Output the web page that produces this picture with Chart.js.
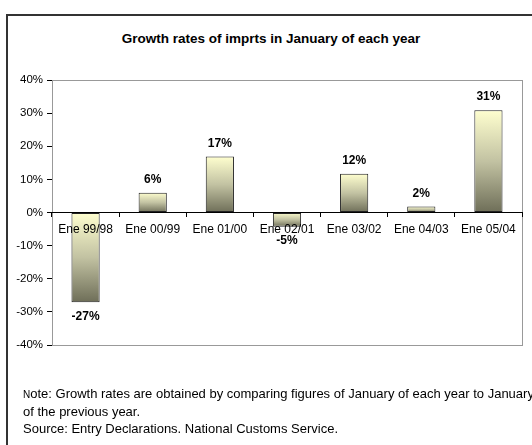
<!DOCTYPE html>
<html>
<head>
<meta charset="utf-8">
<script src="https://cdn.jsdelivr.net/npm/chart.js@4/dist/chart.umd.min.js"></script>
<style>
  body { margin: 0; background: #fff; font-family: "Liberation Sans", Arial, sans-serif; }
  #wrap { position: relative; width: 532px; height: 445px; overflow: hidden; }
  #frame { position: absolute; left: 6px; top: 14px; width: 600px; height: 500px;
           border-left: 2px solid #333; border-top: 2px solid #333; }
  #title { position: absolute; left: 0; width: 542px; top: 31px; text-align: center;
           font-weight: bold; font-size: 13.5px; color: #000; }
  #note { position: absolute; left: 23px; top: 385px; width: 540px; font-size: 13px;
          line-height: 17px; color: #000; white-space: nowrap; }
  #chartBox { position: absolute; left: 0; top: 0; width: 532px; height: 445px; }
  .sc { font-size: 10px; }
</style>
</head>
<body>
<div id="wrap">
  <div id="frame"></div>
  <div id="title">Growth rates of imprts in January of each year</div>
  <div id="chartBox"><canvas id="myChart"></canvas></div>
  <div id="note"><span class="sc">N</span>ote: Growth rates are obtained by comparing figures of January of each year to January<br>of the previous year.<br>Source: Entry Declarations. National Customs Service.</div>
</div>
<script>
'use strict';

var categories = ['Ene 99/98', 'Ene 00/99', 'Ene 01/00', 'Ene 02/01', 'Ene 03/02', 'Ene 04/03', 'Ene 05/04'];
var growthValues = [-27.1, 6.0, 16.9, -4.3, 11.7, 1.8, 30.9];
var valueLabels = ['-27%', '6%', '17%', '-5%', '12%', '2%', '31%'];
var yTicks = [-40, -30, -20, -10, 0, 10, 20, 30, 40];

var fontFamily = '"Liberation Sans", Arial, sans-serif';

function barGradient(context) {
    var chart = context.chart;
    var y = chart.scales.y;
    if (!y || context.dataIndex === undefined) return '#cccc99';
    var v = growthValues[context.dataIndex];
    var top = y.getPixelForValue(Math.max(v, 0));
    var bottom = y.getPixelForValue(Math.min(v, 0));
    if (!isFinite(top) || !isFinite(bottom) || top === bottom) return '#cccc99';
    var g = chart.ctx.createLinearGradient(0, top, 0, bottom);
    g.addColorStop(0, '#ffffcf');
    g.addColorStop(0.5, '#c2c2a2');
    g.addColorStop(1, '#6e6e58');
    return g;
}

// grey frame round the plot area
var plotFrame = {
    id: 'plotFrame',
    beforeDatasetsDraw: function (chart) {
        var a = chart.chartArea, ctx = chart.ctx;
        ctx.save();
        ctx.strokeStyle = '#999';
        ctx.lineWidth = 1;
        ctx.strokeRect(Math.round(a.left) + 0.5, Math.round(a.top) + 0.5,
                       Math.round(a.right - a.left), Math.round(a.bottom - a.top));
        ctx.restore();
    }
};

// value labels above / below bars
var valueLabelPlugin = {
    id: 'valueLabelPlugin',
    afterDraw: function (chart) {
        var ctx = chart.ctx;
        var meta = chart.getDatasetMeta(0);
        ctx.save();
        ctx.font = 'bold 12px ' + fontFamily;
        ctx.fillStyle = '#000';
        ctx.textAlign = 'center';
        ctx.textBaseline = 'middle';
        meta.data.forEach(function (bar, i) {
            var v = growthValues[i];
            var yy = v >= 0 ? bar.y - 13 : bar.y + 14;
            ctx.fillText(valueLabels[i], bar.x, yy);
        });
        ctx.restore();
    }
};

var config = {
    type: 'bar',
    data: {
        labels: categories,
        datasets: [{
            data: growthValues,
            backgroundColor: barGradient,
            borderColor: '#222',
            borderWidth: 1,
            borderSkipped: false,
            barPercentage: 0.42,
            categoryPercentage: 1
        }]
    },
    options: {
        responsive: false,
        animation: false,
        devicePixelRatio: 1,
        layout: { padding: { top: 80, bottom: 100, left: 0, right: 10 } },
        plugins: {
            legend: { display: false },
            tooltip: { enabled: false },
            title: { display: false }
        },
        scales: {
            x: {
                position: { y: 0 },
                grid: { display: true, drawOnChartArea: false, drawTicks: true, tickLength: 4,
                        offset: true, color: '#000', z: 1 },
                border: { display: true, color: '#000', width: 1, z: 1 },
                ticks: { font: { family: fontFamily, size: 12 }, color: '#000', padding: 6,
                         maxRotation: 0, autoSkip: false, z: 1 }
            },
            y: {
                min: -40,
                max: 40,
                afterBuildTicks: function (scale) {
                    scale.ticks = yTicks.map(function (v) { return { value: v }; });
                },
                afterFit: function (scale) { scale.width = 52; },
                grid: { display: true, drawOnChartArea: false, drawTicks: true, tickLength: 5, color: '#000' },
                border: { display: true, color: '#000', width: 1 },
                ticks: {
                    font: { family: fontFamily, size: 11.5 }, color: '#000', padding: 4,
                    callback: function (v) { return v + '%'; }
                }
            }
        }
    },
    plugins: [plotFrame, valueLabelPlugin]
};

var canvas = document.getElementById('myChart');
canvas.width = 532;
canvas.height = 445;
window.myBar = new Chart(canvas.getContext('2d'), config);
</script>
</body>
</html>
